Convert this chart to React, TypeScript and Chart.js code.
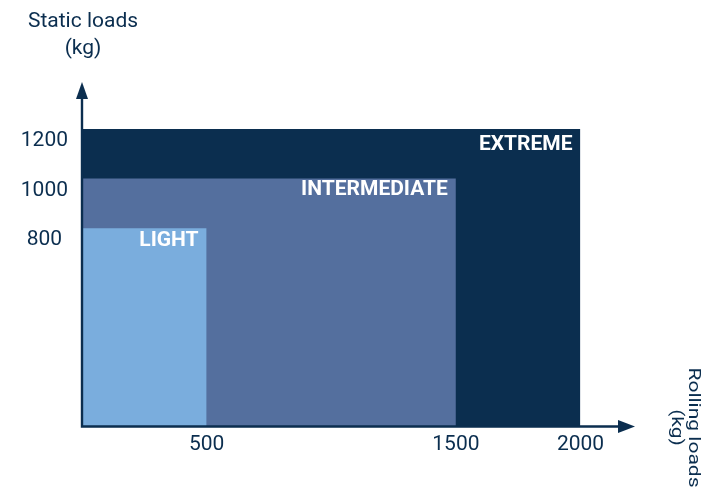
import React, { useEffect, useRef } from "react";
import { Chart, registerables } from "chart.js";

Chart.register(...registerables);

// ---- data ----
const zoneNames = ["LIGHT", "INTERMEDIATE", "EXTREME"];
const rollingLoads = [500, 1500, 2000];
const staticLoads = [800, 1000, 1200];
const xTickValues = [500, 1500, 2000];
const yTickValues = [1200, 1000, 800];
const yTitleLines = ["Static loads", "(kg)"];
const xTitleLines = ["Rolling loads", "(kg)"];

// ---- style ----
const NAVY = "#0b2e4f";
const zoneColors = ["#7aaddd", "#546f9e", "#0b2e4f"];
const zoneLabelBaseline = [18, 16, 21];
const FONT = "Roboto";

const decorPlugin = {
  id: "decor",
  afterDraw(chart: any) {
    const { ctx, chartArea, scales } = chart;
    const { left, right, bottom } = chartArea;
    const xs = scales.x;
    const ys = scales.y;
    ctx.save();

    // zone labels
    ctx.fillStyle = "#ffffff";
    ctx.font = `bold 21px ${FONT}`;
    ctx.textAlign = "right";
    ctx.textBaseline = "alphabetic";
    zoneNames.forEach((name, i) => {
      const px = xs.getPixelForValue(rollingLoads[i]) - 8;
      const py = ys.getPixelForValue(staticLoads[i]) + zoneLabelBaseline[i];
      ctx.fillText(name, px, py);
    });

    // axes with arrows
    ctx.strokeStyle = NAVY;
    ctx.fillStyle = NAVY;
    ctx.lineWidth = 2.4;
    ctx.beginPath();
    ctx.moveTo(left, bottom);
    ctx.lineTo(left, 92);
    ctx.moveTo(left - 1.2, bottom);
    ctx.lineTo(right + 45, bottom);
    ctx.stroke();
    // y arrow head
    ctx.beginPath();
    ctx.moveTo(left, 82);
    ctx.lineTo(left - 6, 99);
    ctx.lineTo(left + 6, 99);
    ctx.closePath();
    ctx.fill();
    // x arrow head
    ctx.beginPath();
    ctx.moveTo(right + 54.5, bottom);
    ctx.lineTo(right + 37.5, bottom - 6.5);
    ctx.lineTo(right + 37.5, bottom + 6.5);
    ctx.closePath();
    ctx.fill();

    // y title
    ctx.font = `21px ${FONT}`;
    ctx.textAlign = "center";
    ctx.fillText(yTitleLines[0], left + 1, 27);
    ctx.fillText(yTitleLines[1], left + 1, 54);

    // x title (rotated, squeezed)
    const lineX = [right + 108.5, right + 91.5];
    xTitleLines.forEach((line, i) => {
      ctx.save();
      ctx.translate(lineX[i], bottom + 1);
      ctx.rotate(Math.PI / 2);
      ctx.scale(1, 0.75);
      ctx.fillText(line, 0, 0);
      ctx.restore();
    });

    ctx.restore();
  },
};

export default function App() {
  const ref = useRef<HTMLCanvasElement>(null);

  useEffect(() => {
    if (!ref.current) return;
    const datasets = zoneNames.map((name, i) => ({
      label: name,
      data: [
        { x: 0, y: staticLoads[i] },
        { x: rollingLoads[i], y: staticLoads[i] },
      ],
      showLine: true,
      fill: "origin",
      backgroundColor: zoneColors[i],
      borderColor: zoneColors[i],
      borderWidth: 0,
      pointRadius: 0,
      tension: 0,
    }));

    const chart = new Chart(ref.current, {
      type: "scatter",
      data: { datasets: datasets as any },
      options: {
        animation: false,
        responsive: false,
        events: [],
        layout: { padding: { top: 129, right: 128.5, left: 0, bottom: 0 } },
        plugins: {
          legend: { display: false },
          tooltip: { enabled: false },
          title: { display: false },
        },
        scales: {
          x: {
            type: "linear",
            min: 0,
            max: 2000,
            afterBuildTicks: (s: any) => {
              s.ticks = xTickValues.map((v) => ({ value: v }));
            },
            afterFit: (s: any) => {
              s.height = 64.5;
            },
            grid: { display: false, drawTicks: false },
            border: { display: false },
            ticks: {
              color: NAVY,
              font: { family: FONT, size: 21 },
              padding: 6,
              maxRotation: 0,
              autoSkip: false,
              callback: (v: any) => String(v),
            },
          },
          y: {
            type: "linear",
            min: 0,
            max: 1200,
            afterBuildTicks: (s: any) => {
              s.ticks = yTickValues.map((v) => ({ value: v }));
            },
            afterFit: (s: any) => {
              s.width = 82;
            },
            grid: { display: false, drawTicks: false },
            border: { display: false },
            ticks: {
              color: NAVY,
              font: { family: FONT, size: 21 },
              padding: 14,
              crossAlign: "center",
              labelOffset: 12,
              autoSkip: false,
              callback: (v: any) => String(v),
            },
          },
        },
      },
      plugins: [decorPlugin],
    });
    return () => chart.destroy();
  }, []);

  return (
    <div style={{ position: "absolute", left: 0, top: 0, width: 709, height: 491, background: "#fff" }}>
      <canvas ref={ref} width={709} height={491} style={{ width: 709, height: 491 }} />
    </div>
  );
}
